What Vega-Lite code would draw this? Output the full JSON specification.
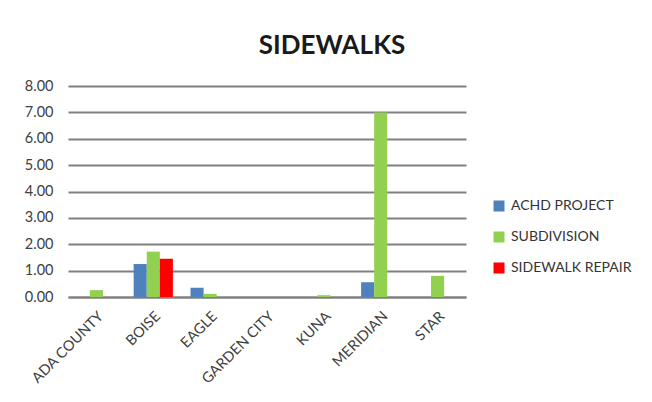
{
  "$schema": "https://vega.github.io/schema/vega-lite/v6.json",
  "width": 398,
  "height": 211,
  "autosize": {"type": "none"},
  "padding": {"left": 68, "top": 86, "right": 186, "bottom": 105},
  "background": "white",
  "title": {
    "text": "SIDEWALKS",
    "font": "Lato",
    "fontSize": 26,
    "fontWeight": "bold",
    "color": "#1a1a1a",
    "anchor": "middle",
    "dx": 65,
    "offset": 19
  },
  "data": {
    "values": [
      {"city": "ADA COUNTY", "series": "ACHD PROJECT", "value": 0},
      {"city": "ADA COUNTY", "series": "SUBDIVISION", "value": 0.26},
      {"city": "ADA COUNTY", "series": "SIDEWALK REPAIR", "value": 0},
      {"city": "BOISE", "series": "ACHD PROJECT", "value": 1.25},
      {"city": "BOISE", "series": "SUBDIVISION", "value": 1.72},
      {"city": "BOISE", "series": "SIDEWALK REPAIR", "value": 1.45},
      {"city": "EAGLE", "series": "ACHD PROJECT", "value": 0.35},
      {"city": "EAGLE", "series": "SUBDIVISION", "value": 0.12},
      {"city": "EAGLE", "series": "SIDEWALK REPAIR", "value": 0},
      {"city": "GARDEN CITY", "series": "ACHD PROJECT", "value": 0},
      {"city": "GARDEN CITY", "series": "SUBDIVISION", "value": 0},
      {"city": "GARDEN CITY", "series": "SIDEWALK REPAIR", "value": 0},
      {"city": "KUNA", "series": "ACHD PROJECT", "value": 0},
      {"city": "KUNA", "series": "SUBDIVISION", "value": 0.07},
      {"city": "KUNA", "series": "SIDEWALK REPAIR", "value": 0},
      {"city": "MERIDIAN", "series": "ACHD PROJECT", "value": 0.56},
      {"city": "MERIDIAN", "series": "SUBDIVISION", "value": 7.0},
      {"city": "MERIDIAN", "series": "SIDEWALK REPAIR", "value": 0},
      {"city": "STAR", "series": "ACHD PROJECT", "value": 0},
      {"city": "STAR", "series": "SUBDIVISION", "value": 0.8},
      {"city": "STAR", "series": "SIDEWALK REPAIR", "value": 0}
    ]
  },
  "mark": {"type": "bar"},
  "encoding": {
    "x": {
      "field": "city",
      "type": "nominal",
      "sort": null,
      "title": null,
      "scale": {"paddingInner": 0.31, "paddingOuter": 0.155},
      "axis": {
        "labelAngle": -45,
        "labelFont": "Lato",
        "labelFontSize": 14.5,
        "labelColor": "#404040",
        "labelPadding": 12,
        "ticks": false,
        "domainColor": "#808080",
        "domainWidth": 2
      }
    },
    "xOffset": {
      "field": "series",
      "type": "nominal",
      "sort": ["ACHD PROJECT", "SUBDIVISION", "SIDEWALK REPAIR"],
      "scale": {"paddingInner": 0, "paddingOuter": 0}
    },
    "y": {
      "field": "value",
      "type": "quantitative",
      "title": null,
      "scale": {"domain": [0, 8], "nice": false},
      "axis": {
        "values": [0, 1, 2, 3, 4, 5, 6, 7, 8],
        "format": ".2f",
        "labelFont": "Lato",
        "labelFontSize": 14.5,
        "labelColor": "#404040",
        "labelPadding": 15,
        "ticks": false,
        "domain": false,
        "gridColor": "#808080",
        "gridWidth": 2,
        "gridOpacity": 1
      }
    },
    "color": {
      "field": "series",
      "type": "nominal",
      "sort": ["ACHD PROJECT", "SUBDIVISION", "SIDEWALK REPAIR"],
      "scale": {
        "domain": ["ACHD PROJECT", "SUBDIVISION", "SIDEWALK REPAIR"],
        "range": ["#4f81bd", "#92d050", "#ff0000"]
      },
      "legend": {
        "title": null,
        "orient": "none",
        "legendX": 424,
        "legendY": 113,
        "padding": 0,
        "symbolType": "square",
        "symbolSize": 121,
        "symbolStrokeWidth": 0,
        "symbolOpacity": 1,
        "labelFont": "Lato",
        "labelFontSize": 14,
        "labelColor": "#333333",
        "labelOffset": 5,
        "rowPadding": 17
      }
    }
  },
  "config": {"view": {"stroke": null}}
}
